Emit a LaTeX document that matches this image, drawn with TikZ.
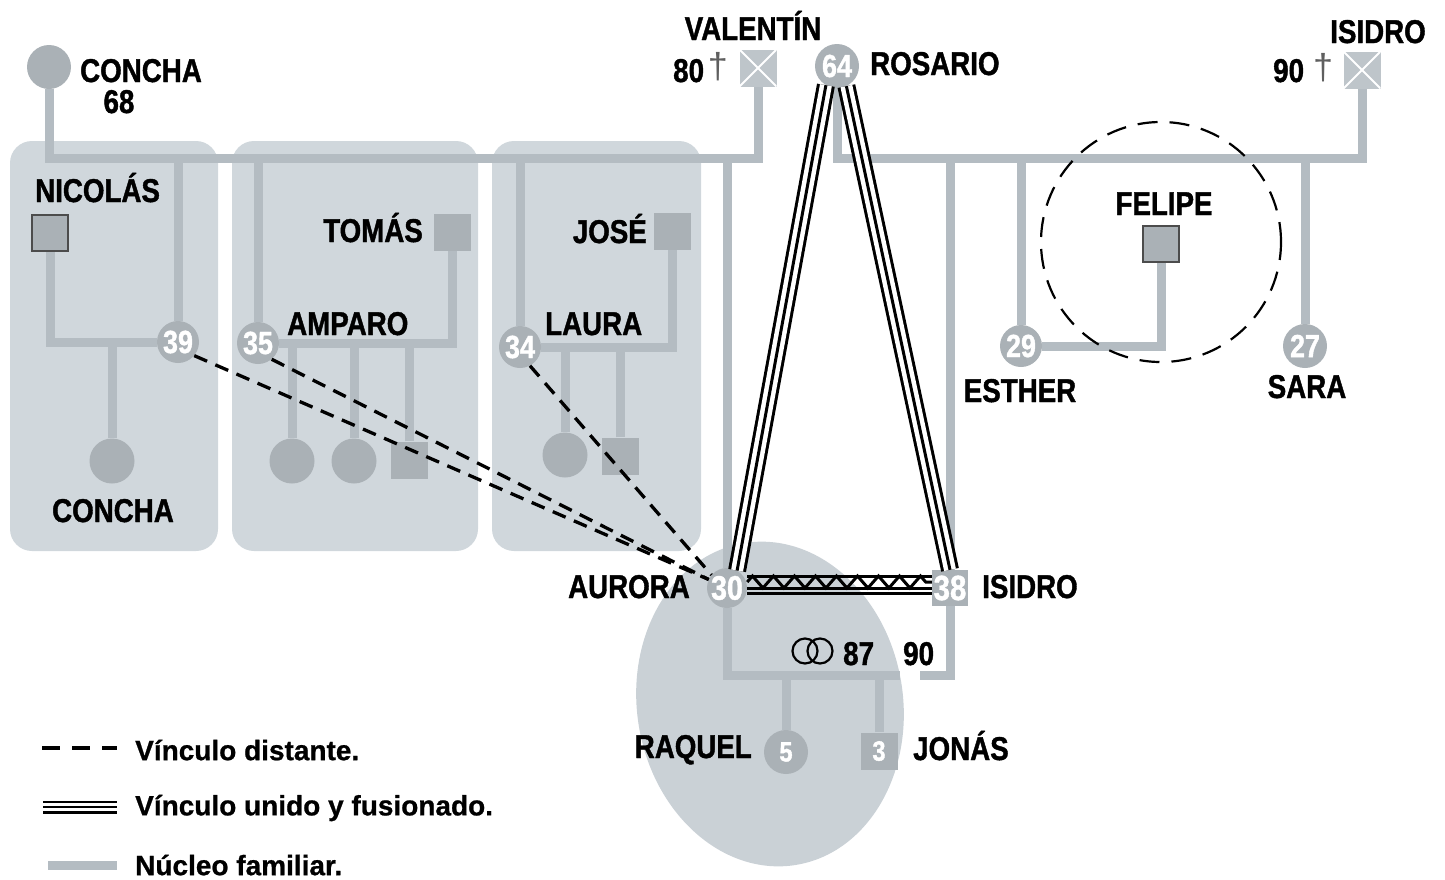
\documentclass[tikz,border=0pt]{standalone}
\usepackage{fontspec}
\setmainfont{Liberation Sans}
\newfontfamily\NmFamily{Liberation Sans}[FakeStretch=0.84,FakeBold=1.2]
\newfontfamily\LgFamily{Liberation Sans}[FakeBold=0.8]
\usetikzlibrary{decorations.pathmorphing,calc,backgrounds}
\definecolor{boxfill}{RGB}{208,215,220}
\definecolor{ellfill}{RGB}{202,209,214}
\definecolor{linegray}{RGB}{180,188,194}
\definecolor{symgray}{RGB}{170,177,182}
\definecolor{xsqgray}{RGB}{190,197,202}
\definecolor{daggray}{RGB}{95,95,95}
\newcommand\NmFont{\NmFamily\bfseries\fontsize{33}{33}\selectfont}
\newcommand\NumFont[1]{\NmFamily\bfseries\fontsize{#1}{#1}\selectfont}
\begin{document}
\begin{tikzpicture}[x=1pt,y=-1pt,
  gl/.style={draw=linegray, line width=9pt},
  pc/.style={circle, fill=symgray, minimum size=#1, inner sep=0pt, text=white, font=\NumFont{32}},
  pc/.default=42pt,
  sq/.style={rectangle, fill=symgray, minimum size=37pt, inner sep=0pt, text=white, font=\NumFont{28}},
  nsq/.style={sq, draw=black!70, line width=1.5pt, minimum size=36pt},
  xsq/.style={rectangle, fill=xsqgray, minimum size=37pt, inner sep=0pt,
    path picture={\draw[white, line width=2pt]
      (path picture bounding box.north west) -- (path picture bounding box.south east)
      (path picture bounding box.north east) -- (path picture bounding box.south west);}},
  nm/.style={font=\NmFont, inner sep=0pt},
  dag/.style={font=\fontsize{36}{36}\selectfont, text=daggray, inner sep=0pt},
  leg/.style={font=\LgFamily\bfseries\fontsize{28}{28}\selectfont, anchor=west, inner sep=0pt},
  distant/.style={draw=black, line width=3.3pt, dash pattern=on 14pt off 9pt},
  fused/.style={draw=black, line width=18pt, postaction={draw=white, line width=12pt}, postaction={draw=black, line width=3pt}},
  fusedsmall/.style={draw=black, line width=13pt, postaction={draw=white, line width=8pt}, postaction={draw=black, line width=2.5pt}},
  blk/.style={draw=black, line width=3pt},
  ring/.style={circle, draw=black, line width=2.2pt, minimum size=25pt, inner sep=0pt}
]
\useasboundingbox (0,0) rectangle (1445,879);

% ---------- top generation ----------
\node[pc=44pt] (concha) at (49,67) {};
\node[nm, anchor=base west] (lconcha) at (80,82) {CONCHA};
\node[nm, anchor=base] (l68) at (119,113) {68};

\node[xsq] (valentin) at (758,68) {};
\node[nm, anchor=base] (lval) at (753,40) {VALENTÍN};
\node[nm, anchor=base west] (l80) at (673,82) {80};
\node[dag] (dag1) at (718,67) {†};

\node[pc=44pt] (ros) at (837,66) {64};
\node[nm, anchor=base west] (lros) at (870,75) {ROSARIO};

\node[xsq] (isid1) at (1362,70) {};
\node[nm, anchor=base] (lisid1) at (1378,43) {ISIDRO};
\node[nm, anchor=base west] (l90a) at (1273,82) {90};
\node[dag] (dag2) at (1323,68) {†};

% ---------- box 1 ----------
\node[nsq] (nico) at (50,233) {};
\node[nm, anchor=base west] (lnico) at (35,202) {NICOLÁS};
\node[pc] (n39) at (178,342) {39};
\node[pc=45pt] (concha2) at (112,461) {};
\node[nm, anchor=base] (lconcha2) at (113,522) {CONCHA};

% ---------- box 2 ----------
\node[pc] (n35) at (258,343) {35};
\node[sq] (tomas) at (452,232) {};
\node[nm, anchor=base east] (ltomas) at (423,242) {TOMÁS};
\node[nm, anchor=base west] (lamparo) at (287,335) {AMPARO};
\node[pc=45pt] (a1) at (292,461) {};
\node[pc=45pt] (a2) at (354,461) {};
\node[sq] (a3) at (409,460) {};

% ---------- box 3 ----------
\node[pc] (n34) at (520,347) {34};
\node[sq] (jose) at (672,231) {};
\node[nm, anchor=base east] (ljose) at (647,243) {JOSÉ};
\node[nm, anchor=base west] (llaura) at (545,335) {LAURA};
\node[pc=45pt] (b1) at (565,455) {};
\node[sq] (b2) at (620,456) {};

% ---------- right family ----------
\node[pc] (n29) at (1021,346) {29};
\node[nm, anchor=base] (lesther) at (1020,402) {ESTHER};
\node[nsq] (felipe) at (1161,244) {};
\node[nm, anchor=base] (lfelipe) at (1164,215) {FELIPE};
\node[pc=44pt] (n27) at (1305,346) {27};
\node[nm, anchor=base] (lsara) at (1307,398) {SARA};
\node[circle, draw=black, line width=2.2pt, dash pattern=on 20pt off 12pt, minimum size=240pt, inner sep=0pt] (fcirc) at (1161,242) {};

% ---------- nuclear family ----------
\node[pc=40pt, font=\NumFont{34}] (aur) at (727,588) {30};
\node[nm, anchor=base east] (laur) at (690,598) {AURORA};
\node[sq, minimum size=36pt, font=\NumFont{35}] (is38) at (950,588) {38};
\node[nm, anchor=base west] (lis38) at (982,598) {ISIDRO};
\node[pc=44pt, font=\NumFont{28}] (raq) at (786,752) {5};
\node[nm, anchor=base east] (lraq) at (752,758) {RAQUEL};
\node[sq] (jon) at (879,751) {3};
\node[nm, anchor=base west] (ljon) at (913,760) {JONÁS};
\node[ring] (r1) at (805,651) {};
\node[ring] (r2) at (820,651) {};
\node[nm, anchor=base west] (l87) at (843,665) {87};
\node[nm, anchor=base west] (l90b) at (903,665) {90};

\coordinate (vj) at (758,158);
\coordinate (rj) at (1362,158);
\coordinate (mL) at (900,675);
\coordinate (mR) at (920,675);

% ---------- background: boxes, ellipse, family lines ----------
\begin{scope}[on background layer]
  \fill[boxfill, rounded corners=22pt] (10,141) rectangle (218,551);
  \fill[boxfill, rounded corners=22pt] (232,141) rectangle (478,551);
  \fill[boxfill, rounded corners=22pt] (492,141) rectangle (701,551);
  \fill[ellfill, rotate around={9:(770,704)}] (770,704) ellipse [x radius=133, y radius=163];

  \draw[gl] (concha) |- (vj) -- (valentin);
  \draw[gl] (n39) -- (n39 |- vj);
  \draw[gl] (n35) -- (n35 |- vj);
  \draw[gl] (n34) -- (n34 |- vj);
  \draw[gl] (aur) -- (aur |- vj);
  \draw[gl] (nico) |- (n39);
  \draw[gl] (concha2) -- (concha2 |- n39);
  \draw[gl] (tomas) |- (n35);
  \draw[gl] (a1) -- (a1 |- n35);
  \draw[gl] (a2) -- (a2 |- n35);
  \draw[gl] (a3) -- (a3 |- n35);
  \draw[gl] (jose) |- (n34);
  \draw[gl] (b1) -- (b1 |- n34);
  \draw[gl] (b2) -- (b2 |- n34);

  \draw[gl] (ros) |- (rj) -- (isid1);
  \draw[gl] (is38) -- (is38 |- rj);
  \draw[gl] (n29) -- (n29 |- rj);
  \draw[gl] (n27) -- (n27 |- rj);
  \draw[gl] (felipe) |- (n29);

  \draw[gl] (aur) |- (mL);
  \draw[gl] (is38) |- (mR);
  \draw[gl] (raq) -- (raq |- mL);
  \draw[gl] (jon) -- (jon |- mL);
\end{scope}

% ---------- relationship lines ----------
\draw[distant] (n39.-40) -- (aur.155);
\draw[distant] (n35.-50) -- (aur.155);
\draw[distant] (n34.-62) -- (aur.140);

\draw[fused] (ros.240) -- (aur.60);
\draw[fused] (ros.295) -- (is38.north);

\draw[blk] ([yshift=12pt]aur.east) -- ([yshift=12pt]is38.west);
\draw[blk] (aur.east) -- (is38.west);
\draw[blk] ([yshift=-5pt]aur.east) -- ([yshift=-5pt]is38.west);
\draw[blk, decorate, decoration={zigzag, amplitude=6pt, segment length=21pt}]
  ([yshift=6pt]aur.east) -- ([yshift=6pt]is38.west);

% ---------- legend ----------
\coordinate (la1) at (42,748);  \coordinate (lb1) at (117,748);
\coordinate (la2) at (43,807);  \coordinate (lb2) at (117,807);
\coordinate (la3) at (48,865);  \coordinate (lb3) at (117,865);
\draw[distant, dash pattern=on 18pt off 12pt] (la1) -- (lb1);
\draw[fusedsmall] (la2) -- (lb2);
\draw[gl] (la3) -- (lb3);
\node[leg] (t1) at (135,750) {Vínculo distante.};
\node[leg] (t2) at (135,808) {Vínculo unido y fusionado.};
\node[leg] (t3) at (135,865) {Núcleo familiar.};
\end{tikzpicture}
\end{document}
